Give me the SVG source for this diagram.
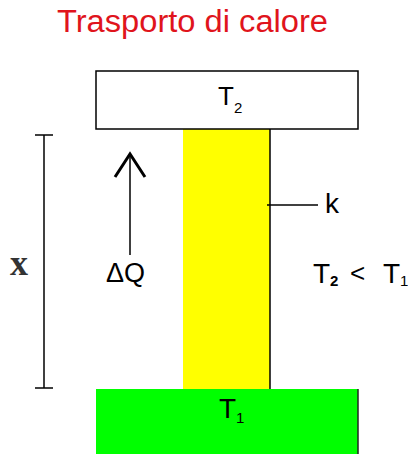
<svg xmlns="http://www.w3.org/2000/svg" width="408" height="454" viewBox="0 0 408 454">
<style>
.lbl{font-family:"Liberation Sans",Arial,sans-serif;fill:#000}
.ln{stroke:#000;stroke-width:1.5;fill:none}
</style>
<rect width="408" height="454" fill="#fff"/>
<text x="57" y="32" font-family="'Liberation Sans',Arial,sans-serif" font-size="31" fill="#e0141c" textLength="271" lengthAdjust="spacingAndGlyphs">Trasporto di calore</text>
<g id="rod">
<rect x="183" y="129" width="87" height="260" fill="#ffff00"/>
<line class="ln" x1="270" y1="129" x2="270" y2="389"/>
</g>
<g id="top-reservoir">
<rect x="96" y="71" width="262" height="58" fill="#fff" stroke="#000" stroke-width="1.5"/>
<text class="lbl" x="218" y="105" font-size="26">T<tspan dy="8" font-size="15">2</tspan></text>
</g>
<g id="bottom-reservoir">
<rect x="96" y="389" width="262" height="70" fill="#00ff00"/>
<line x1="358" y1="389" x2="358" y2="454" stroke="#222" stroke-width="1.5"/>
<text class="lbl" x="219" y="418" font-size="28">T<tspan dy="5" font-size="15">1</tspan></text>
</g>
<g id="connectors">
<line class="ln" x1="44" y1="135" x2="44" y2="388"/>
<line class="ln" x1="35" y1="135" x2="53" y2="135"/>
<line class="ln" x1="35" y1="388" x2="53" y2="388"/>
<line class="ln" x1="130" y1="155" x2="130" y2="255"/>
<polyline points="115,177 130,154 145,177" fill="none" stroke="#000" stroke-width="3"/>
<line class="ln" x1="267" y1="205" x2="318" y2="205"/>
</g>
<g id="labels">
<text x="10" y="275" font-family="'Liberation Serif','Times New Roman',serif" font-weight="bold" font-size="36" fill="#333">x</text>
<text class="lbl" x="106" y="282" font-size="27">ΔQ</text>
<text class="lbl" x="325" y="213" font-size="28">k</text>
<text class="lbl" x="313" y="283" font-size="28">T<tspan dy="3" font-size="15" font-weight="bold">2</tspan></text>
<text class="lbl" x="350" y="282" font-size="26">&lt;</text>
<text class="lbl" x="383" y="283" font-size="28">T<tspan dy="3" font-size="15">1</tspan></text>
</g>
</svg>
